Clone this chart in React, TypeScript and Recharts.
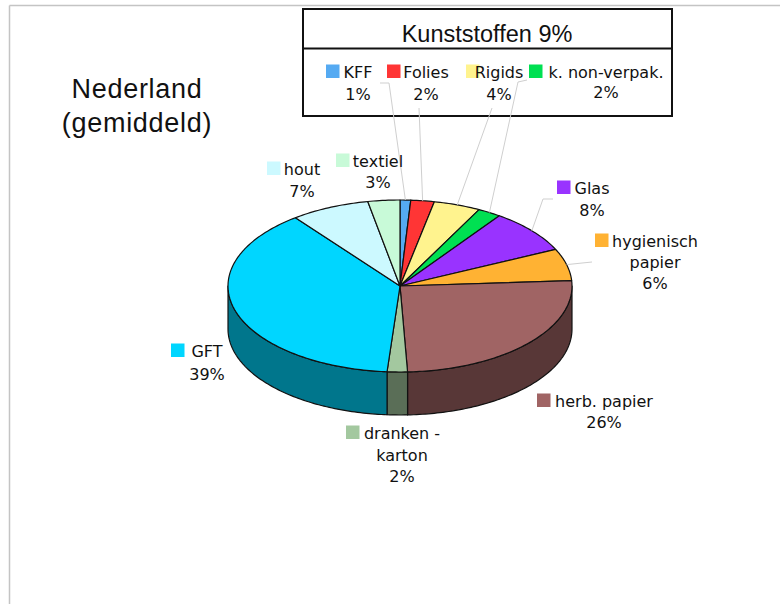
import { PieChart, Pie } from "recharts";

// waste composition, slices clockwise from 12 o'clock
const CATEGORIES = [
  ["KFF"],
  ["Folies"],
  ["Rigids"],
  ["k. non-verpak."],
  ["Glas"],
  ["hygienisch", "papier"],
  ["herb. papier"],
  ["dranken -", "karton"],
  ["GFT"],
  ["hout"],
  ["textiel"],
];
const SHARES = [1.0, 2.2, 4.4, 2.2, 8.2, 6.0, 25.3, 1.9, 38.4, 7.4, 3.0];
const PERCENT_LABELS = ["1%", "2%", "4%", "2%", "8%", "6%", "26%", "2%", "39%", "7%", "3%"];
const TITLE_LINES = ["Nederland", "(gemiddeld)"];
const GROUP_TITLE = "Kunststoffen 9%";

const COLORS = [
  "#55aaf2", "#ff3535", "#fff38e", "#00e052", "#9933ff", "#ffb233",
  "#a06464", "#a3c89f", "#00d6ff", "#ccf9ff", "#c8fad8",
];

// label placement: square x, text centre x, first baseline, line height, leader start points
const LABEL_LAYOUT: { sx: number; tx: number; y: number; lh: number; leader?: number[][] }[] = [
  { sx: 326, tx: 358, y: 78, lh: 22, leader: [[380, 83], [389, 83]] },
  { sx: 387, tx: 426, y: 78, lh: 22, leader: [[419, 108]] },
  { sx: 466, tx: 499, y: 78, lh: 22, leader: [[492, 108]] },
  { sx: 529, tx: 606, y: 78, lh: 20, leader: [[527, 80], [518, 82]] },
  { sx: 557, tx: 592, y: 194, lh: 21.5, leader: [[553, 199], [543, 199]] },
  { sx: 595, tx: 655, y: 247, lh: 21, leader: [[592, 262]] },
  { sx: 537, tx: 604, y: 407, lh: 21 },
  { sx: 346, tx: 402, y: 439, lh: 21.5 },
  { sx: 171, tx: 207, y: 357, lh: 23 },
  { sx: 267, tx: 302, y: 175, lh: 22 },
  { sx: 336, tx: 378, y: 167, lh: 21 },
];

const data = CATEGORIES.map((lines, i) => ({ name: lines.join(" "), value: SHARES[i] }));

const RAD = Math.PI / 180;
const FONT = "'DejaVu Sans', Verdana, sans-serif";

function darken(hex: string, f: number) {
  const n = parseInt(hex.slice(1), 16);
  const r = Math.round(((n >> 16) & 255) * f);
  const g = Math.round(((n >> 8) & 255) * f);
  const b = Math.round((n & 255) * f);
  return `rgb(${r},${g},${b})`;
}

// draws one slice as a tilted 3D wedge plus its label
function Slice3D(props: any) {
  const { cx, cy, outerRadius, startAngle, endAngle, index } = props;
  const rx = outerRadius;
  const ry = outerRadius * 0.5;
  const depth = outerRadius * 0.25;
  const pt = (a: number, dy = 0) => [cx + rx * Math.cos(a * RAD), cy - ry * Math.sin(a * RAD) + dy];
  const arc = (from: number, to: number, dy = 0) => {
    const n = Math.max(2, Math.ceil(Math.abs(from - to)));
    const out: number[][] = [];
    for (let k = 0; k <= n; k++) out.push(pt(from + ((to - from) * k) / n, dy));
    return out;
  };
  const fill = COLORS[index];
  const toPath = (pts: number[][]) => "M" + pts.map((p) => `${p[0].toFixed(2)},${p[1].toFixed(2)}`).join("L") + "Z";

  const top = toPath([[cx, cy], ...arc(startAngle, endAngle)]);

  let side: string | null = null;
  const hi = Math.min(startAngle, 0);
  const lo = Math.max(endAngle, -180);
  if (hi > lo) {
    side = toPath([...arc(hi, lo), ...arc(lo, hi, depth)]);
  }

  const lay = LABEL_LAYOUT[index];
  const mid = (startAngle + endAngle) / 2;
  const rim = pt(mid);
  const lines = [...CATEGORIES[index], PERCENT_LABELS[index]];

  return (
    <g>
      {side && <path d={side} fill={darken(fill, 0.55)} stroke="#111" strokeWidth={1.2} strokeLinejoin="round" />}
      <path d={top} fill={fill} stroke="#111" strokeWidth={1.2} strokeLinejoin="round" />
      {lay.leader && (
        <polyline
          points={[...lay.leader, rim].map((p) => p.join(",")).join(" ")}
          fill="none"
          stroke="#cfcfcf"
          strokeWidth={1}
        />
      )}
      <rect x={lay.sx} y={lay.y - 13.5} width={13.5} height={13.5} fill={fill} />
      {lines.map((t, k) => (
        <text key={k} x={lay.tx} y={lay.y + k * lay.lh} textAnchor="middle" fontFamily={FONT} fontSize={16} fill="#111">
          {t}
        </text>
      ))}
    </g>
  );
}

export default function App() {
  return (
    <div style={{ position: "absolute", left: 0, top: 0, width: 780, height: 604, background: "#fff" }}>
      <svg width={780} height={604} style={{ position: "absolute", left: 0, top: 0 }}>
        <line x1={9.5} y1={5.5} x2={780} y2={5.5} stroke="#c4c4c4" strokeWidth={1.5} />
        <line x1={9.5} y1={5.5} x2={9.5} y2={604} stroke="#c4c4c4" strokeWidth={1.5} />
        {TITLE_LINES.map((t, i) => (
          <text key={t} x={137} y={98 + i * 34} textAnchor="middle" fontFamily="'Liberation Sans', Arial, sans-serif" fontSize={27} letterSpacing={0.7} fill="#111">
            {t}
          </text>
        ))}
        <rect x={303} y={9} width={369} height={107} fill="#fff" stroke="#111" strokeWidth={2} />
        <line x1={303} y1={48.5} x2={672} y2={48.5} stroke="#111" strokeWidth={2} />
        <text x={487} y={42} textAnchor="middle" fontFamily="'Liberation Sans', Arial, sans-serif" fontSize={23.5} fill="#111">
          {GROUP_TITLE}
        </text>
      </svg>
      <div style={{ position: "absolute", left: 0, top: 0 }}>
        <PieChart width={780} height={604} margin={{ top: 0, right: 0, bottom: 0, left: 0 }}>
          <Pie
            data={data}
            dataKey="value"
            nameKey="name"
            cx={400}
            cy={286}
            outerRadius={172}
            startAngle={90}
            endAngle={-270}
            fill="none"
            stroke="none"
            label={Slice3D}
            labelLine={false}
            isAnimationActive={false}
          />
        </PieChart>
      </div>
    </div>
  );
}
